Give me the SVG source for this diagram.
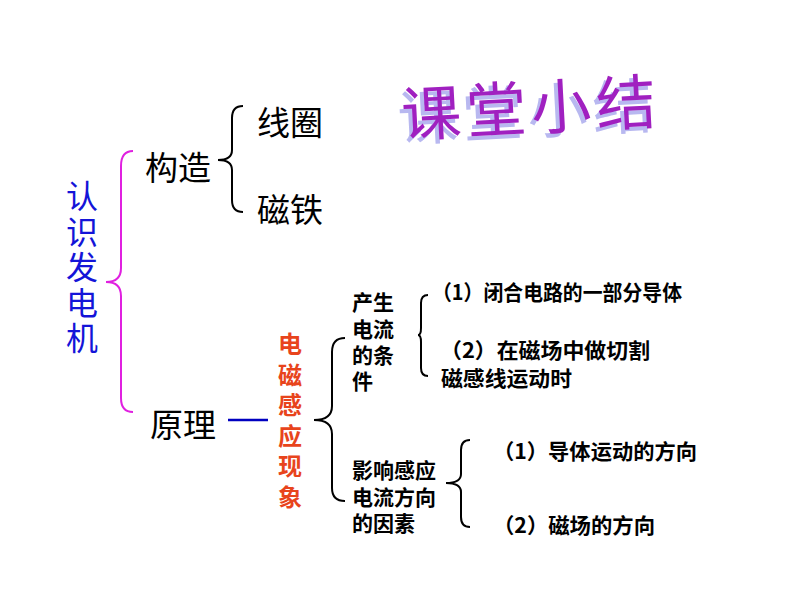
<svg xmlns="http://www.w3.org/2000/svg" width="800" height="600" viewBox="0 0 800 600">
<style>
text{font-family:"Noto Sans CJK SC","Noto Sans",sans-serif;}
.big{font-size:33px;fill:#000;}
.blue{font-size:32px;fill:#1414d8;writing-mode:vertical-rl;letter-spacing:3.5px;}
.red{font-size:24px;fill:#e8441c;font-weight:bold;writing-mode:vertical-rl;letter-spacing:6.5px;}
.mid{font-size:21px;fill:#000;font-weight:bold;}
.br{fill:none;stroke:#000;stroke-width:2;}
</style>
<rect width="800" height="600" fill="#fff"/>
<g id="title" transform="rotate(-3 530 105)">
<text x="397" y="134" font-size="60" fill="#b8b8f0" letter-spacing="5">课堂小结</text>
<text x="401" y="130" font-size="60" fill="#a020c0" letter-spacing="5">课堂小结</text>
</g>
<g id="root"><text class="blue" x="82" y="180">认识发电机</text></g>
<g id="structure"><text class="big" x="145" y="180">构造</text></g>
<g id="coil"><text class="big" x="257" y="135">线圈</text></g>
<g id="magnet"><text class="big" x="257" y="222">磁铁</text></g>
<g id="principle"><text class="big" x="150" y="437">原理</text></g>
<g id="emi"><text class="red" x="290" y="332">电磁感应现象</text></g>
<g id="cond">
<text class="mid"><tspan x="352" y="310">产生</tspan><tspan x="352" dy="26.5">电流</tspan><tspan x="352" dy="26">的条</tspan><tspan x="352" dy="26">件</tspan></text>
</g>
<g id="c1"><text class="mid" x="432" y="300" font-size="19" textLength="250" lengthAdjust="spacingAndGlyphs">（1）闭合电路的一部分导体</text></g>
<g id="c2">
<text class="mid" x="440" y="358" textLength="210" lengthAdjust="spacingAndGlyphs">（2）在磁场中做切割</text>
<text class="mid" x="441" y="386" textLength="131" lengthAdjust="spacingAndGlyphs">磁感线运动时</text>
</g>
<g id="factor">
<text class="mid"><tspan x="352" y="478">影响感应</tspan><tspan x="352" dy="27">电流方向</tspan><tspan x="352" dy="26">的因素</tspan></text>
</g>
<g id="f1"><text class="mid" x="493" y="459" textLength="204" lengthAdjust="spacingAndGlyphs">（1）导体运动的方向</text></g>
<g id="f2"><text class="mid" x="493" y="533" textLength="162" lengthAdjust="spacingAndGlyphs">（2）磁场的方向</text></g>
<g id="connectors">
<path d="M133,151 Q121,151 121,166 L121,268 Q121,282 106,282 Q121,282 121,296 L121,398 Q121,412 133,412" fill="none" stroke="#e020e0" stroke-width="2"/>
<path class="br" d="M243,106 Q232,106 232,118 L232,150 Q232,160 218,160 Q232,160 232,170 L232,200 Q232,212 243,212"/>
<line x1="228" y1="420" x2="268" y2="420" stroke="#0000c0" stroke-width="2.5"/>
<path class="br" d="M345,338 Q332,338 332,352 L332,406 Q332,420 314,420 Q332,420 332,434 L332,488 Q332,501 345,501"/>
<path class="br" d="M428,295 Q421,295 421,303 L421,328 Q421,335 418,335 Q421,335 421,342 L421,368 Q421,376 428,376"/>
<path class="br" d="M470,440 Q461,440 461,450 L461,474 Q461,483 446,483 Q461,483 461,492 L461,517 Q461,527 470,527"/>
</g>
</svg>
